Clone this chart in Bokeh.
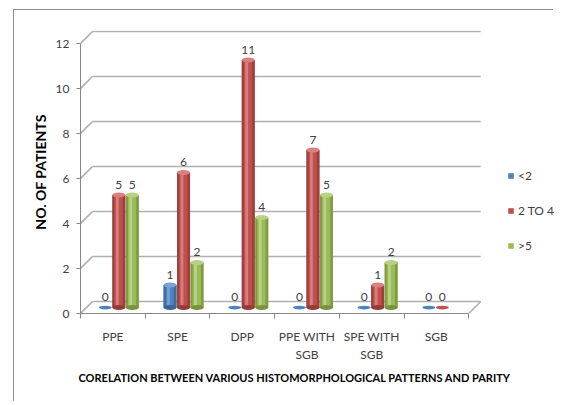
from bokeh.plotting import figure
from bokeh.models import Range1d, FixedTicker, Legend, LegendItem, Title
from bokeh.embed import file_html
from bokeh.resources import INLINE
from bokeh.core.properties import value

# ---------------- data ----------------
categories = ["PPE", "SPE", "DPP", "PPE WITH\nSGB", "SPE WITH\nSGB", "SGB"]
series_names = ["<2", "2 TO 4", ">5"]
lt2 = [0, 1, 0, 0, 0, 0]
two_to_four = [5, 6, 11, 7, 1, 0]
gt5 = [5, 2, 4, 5, 2, None]
y_ticks = [0, 2, 4, 6, 8, 10, 12]
y_title = "NO. OF PATIENTS"
x_title = "CORELATION BETWEEN VARIOUS HISTOMORPHOLOGICAL PATTERNS AND PARITY"

# ---------------- styles ----------------
colors = ["#4f81bd", "#c0504d", "#9bbb59"]
top_colors = ["#7aa3d6", "#d9817e", "#b8d184"]
dark_colors = ["#3b6595", "#943b38", "#78933f"]
light_colors = ["#86ace0", "#df918e", "#c3da98"]
FONT = "Lato"
PX_X = 64.7
PX_Y = 22.5
DX = 12 / PX_X
DY = 12 / PX_Y
BAR_W = 13 / PX_X
BAR_STEP = 13.5 / PX_X
ELL_H = 5 / PX_Y
GRID = "#b0b0b0"
AXIS = "#868686"

n_cat = len(categories)

p = figure(width=540, height=392, output_backend="svg", toolbar_location=None,
           x_range=Range1d(0, 474 / PX_X), y_range=Range1d(0, 283 / PX_Y),
           min_border_left=66, min_border_right=0, min_border_top=20,
           min_border_bottom=89,
           styles={"margin-left": "13px", "margin-top": "9px",
                   "border-left": "1px solid #8c8c8c",
                   "border-top": "1px solid #8c8c8c"})
p.grid.visible = False
p.outline_line_color = None
p.background_fill_color = "white"
p.border_fill_color = "white"

# back wall gridlines and left-wall slants
n = len(y_ticks)
p.segment(x0=[DX] * n, y0=[t + DY for t in y_ticks], x1=[n_cat + DX] * n,
          y1=[t + DY for t in y_ticks], line_color=GRID, line_width=1.7)
p.segment(x0=[0] * n, y0=y_ticks, x1=[DX] * n, y1=[t + DY for t in y_ticks],
          line_color=GRID, line_width=1.7)
# floor right edge
p.segment(x0=[n_cat], y0=[0], x1=[n_cat + DX], y1=[DY], line_color=GRID, line_width=1.7)

series = [lt2, two_to_four, gt5]
legend_items = []
for s, vals in enumerate(series):
    xs, ys, labels = [], [], []
    bx, btop = [], []
    zx = []
    for i, v in enumerate(vals):
        if v is None:
            continue
        xc = i + 0.5 + DX / 2 + (s - 1) * BAR_STEP
        xs.append(xc)
        ys.append(v + DY / 2)
        labels.append(str(v))
        if v > 0:
            bx.append(xc)
            btop.append(v + DY / 2)
        else:
            zx.append(xc)
    body = p.vbar(x=bx, width=BAR_W, bottom=DY / 2, top=btop,
                  fill_color=colors[s], line_color=None)
    # cylinder shading strips
    p.vbar(x=[x - BAR_W * 0.42 for x in bx], width=BAR_W * 0.16, bottom=DY / 2, top=btop,
           fill_color=dark_colors[s], line_color=None, fill_alpha=0.8)
    p.vbar(x=[x - BAR_W * 0.12 for x in bx], width=BAR_W * 0.22, bottom=DY / 2, top=btop,
           fill_color=light_colors[s], line_color=None, fill_alpha=0.7)
    p.vbar(x=[x + BAR_W * 0.40 for x in bx], width=BAR_W * 0.2, bottom=DY / 2, top=btop,
           fill_color=dark_colors[s], line_color=None, fill_alpha=0.8)
    # rounded base and top
    p.ellipse(x=bx, y=[DY / 2] * len(bx), width=BAR_W, height=ELL_H,
              fill_color=dark_colors[s], line_color=None)
    p.ellipse(x=bx, y=btop, width=BAR_W, height=ELL_H,
              fill_color=top_colors[s], line_color=None)
    # zero-height discs
    p.ellipse(x=zx, y=[DY / 2] * len(zx), width=BAR_W, height=ELL_H * 0.75,
              fill_color=colors[s], line_color=None)
    # value labels
    p.text(x=xs, y=[y + ELL_H / 2 for y in ys], text=labels, text_align="center",
           text_baseline="bottom", y_offset=-4, text_font=value(FONT),
           text_font_size="12px", text_color="#404040")
    legend_items.append(LegendItem(label=series_names[s], renderers=[body]))

# y axis
ya = p.yaxis[0]
ya.ticker = FixedTicker(ticks=y_ticks)
ya.bounds = (0, 12)
ya.axis_line_color = AXIS
ya.major_tick_line_color = AXIS
ya.major_tick_out = 4
ya.major_tick_in = 0
ya.minor_tick_line_color = None
ya.major_label_standoff = 7
ya.major_label_text_font = FONT
ya.major_label_text_font_size = "12px"
ya.major_label_text_color = "#404040"
ya.axis_label = y_title
ya.axis_label_text_font = FONT
ya.axis_label_text_font_style = "bold"
ya.axis_label_text_font_size = "14px"
ya.axis_label_text_color = "#000000"
ya.axis_label_standoff = 4

# x axis
xa = p.xaxis[0]
centers = [i + 0.5 for i in range(n_cat)]
xa.ticker = FixedTicker(ticks=centers, minor_ticks=list(range(n_cat + 1)))
xa.bounds = (0, n_cat)
xa.axis_line_color = AXIS
xa.major_tick_line_color = None
xa.major_tick_out = 0
xa.major_tick_in = 0
xa.minor_tick_line_color = AXIS
xa.minor_tick_out = 5
xa.minor_tick_in = 0
xa.major_label_overrides = {c: lab for c, lab in zip(centers, categories)}
xa.major_label_standoff = 10
xa.major_label_text_font = FONT
xa.major_label_text_font_size = "12px"
xa.major_label_text_color = "#404040"

p.add_layout(Title(text=x_title, align="left", offset=-2, standoff=8,
                   text_font=FONT, text_font_style="bold", text_font_size="11px",
                   text_color="#000000"), "below")

legend = Legend(items=legend_items, location=(427, 60), orientation="vertical",
                glyph_width=7, glyph_height=7, label_height=14, label_standoff=4,
                spacing=20, padding=0, margin=0, border_line_color=None,
                background_fill_alpha=0,
                label_text_font=FONT, label_text_font_size="12px",
                label_text_color="#404040")
p.add_layout(legend)

open("out.html", "w").write(file_html(p, INLINE))
